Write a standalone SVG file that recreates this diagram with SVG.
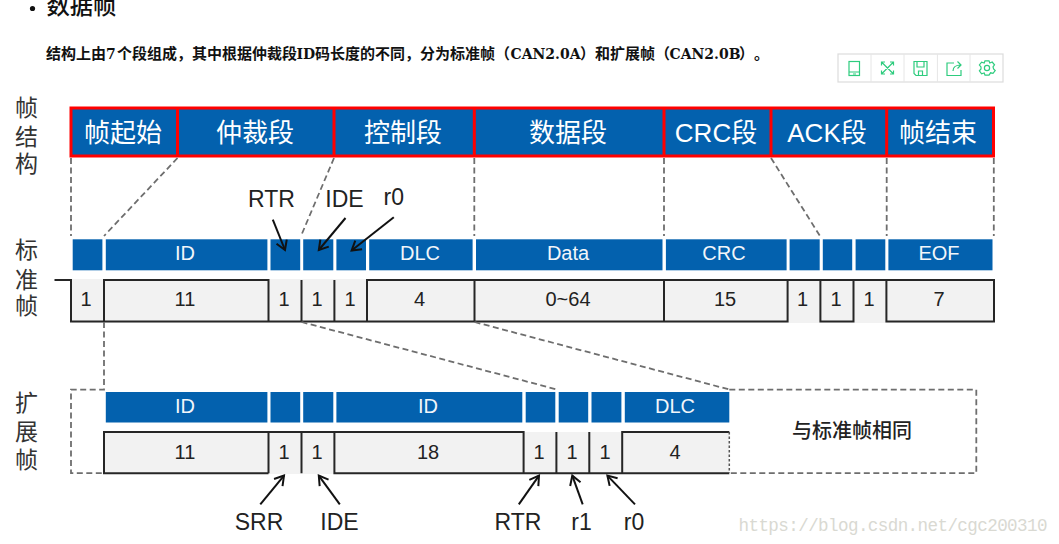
<svg xmlns="http://www.w3.org/2000/svg" width="1059" height="544" viewBox="0 0 1059 544">
<style>
text{font-family:"Liberation Sans","Noto Sans CJK SC",sans-serif;text-anchor:middle}
.seg{fill:#fff;font-size:26px}
.blue{fill:#0361ae}
.bl{fill:#f2f6fa;font-size:20px}
.num{fill:#222;font-size:20px}
.side{fill:#333;font-size:23px}
.lbl{fill:#222;font-size:23px}
.wave{fill:none;stroke:#262626;stroke-width:2}
.dash{fill:none;stroke:#6e6e6e;stroke-width:1.8;stroke-dasharray:6 3.5}
.arr{stroke:#111;stroke-width:2;fill:none;marker-end:url(#a)}
.head{font-family:"Noto Sans CJK SC",sans-serif;font-weight:700;fill:#111;text-anchor:start}
.lat{font-family:"DejaVu Serif",serif;font-size:14px}
.ic{fill:none;stroke:#2ecc7e;stroke-width:1.2}
</style>
<defs>
<marker id="a" markerUnits="userSpaceOnUse" markerWidth="14" markerHeight="14" refX="12" refY="7" orient="auto">
<path d="M3,1.5 L12,7 L3,12.5" fill="none" stroke="#111" stroke-width="2"/>
</marker>
</defs>
<rect width="1059" height="544" fill="#fff"/>

<g id="page-heading">
<circle cx="32.5" cy="8.5" r="2.6" fill="#111"/>
<text class="head" x="46.5" y="14" font-size="23.3" style="font-weight:500">数据帧</text>
<text class="head" x="46" y="59" font-size="15" style="text-spacing-trim:space-all"><tspan x="46">结构上由</tspan><tspan class="lat" x="106">7</tspan><tspan x="117">个段组成，其中根据仲裁段</tspan><tspan class="lat" x="296.5">ID</tspan><tspan x="315">码长度的不同，分为标准帧（</tspan><tspan class="lat" x="510.5">CAN2.0A</tspan><tspan x="580">）和扩展帧（</tspan><tspan class="lat" x="669.5">CAN2.0B</tspan><tspan x="739">）</tspan><tspan x="754">。</tspan></text>
</g>

<g id="toolbar">
<rect x="838" y="54" width="165" height="28" fill="#fff" stroke="#dcdcdc" stroke-width="1.2"/>
<path d="M871,54V82M904,54V82M937.4,54V82M970,54V82" stroke="#e6e6e6" stroke-width="1"/>
<g class="ic">
<rect x="849" y="61.5" width="10.5" height="14"/><path d="M849,72H859.5M853,74H856"/>
<path d="M881.5,62L893.5,74M893.5,62L881.5,74M881.5,65.5V62H885M890,62H893.5V65.5M881.5,70.5V74H885M890,74H893.5V70.5"/>
<path d="M914,61.5H927V75.5H916L914,73.5ZM917,61.5V67H924V61.5M918.5,75.5V71H922.5V75.5"/>
<path d="M954,63H947V75.5H961V70M953,71C953,66 956,65 961,65M957.5,61.5L961,65L957.5,68.5"/>
<path d="M985,60.8H989L989.8,63L992.2,62L994.5,64.8L993,66.8L993.6,69L995.2,70.5L993,73.4L990.6,72.8L989,75.2H985L984.2,73L981.6,73.8L979.4,70.8L981,69L981,67L979.4,65L981.6,62.2L984.2,63Z"/>
<circle cx="987" cy="68" r="2.6"/>
</g>
</g>

<g id="side-labels">
<text class="side" x="26.5" y="116">帧</text><text class="side" x="26.5" y="145">结</text><text class="side" x="26.5" y="172">构</text>
<text class="side" x="26.5" y="258">标</text><text class="side" x="26.5" y="288">准</text><text class="side" x="26.5" y="314">帧</text>
<text class="side" x="26.5" y="411">扩</text><text class="side" x="26.5" y="440">展</text><text class="side" x="26.5" y="468">帧</text>
</g>

<g id="frame-structure">
<rect x="71" y="108" width="922.5" height="48" fill="#0361ae" stroke="#f00" stroke-width="3"/>
<path d="M177.5,108V156M334,108V156M474.3,108V156M664,108V156M771,108V156M886.7,108V156" stroke="#f00" stroke-width="3" fill="none"/>
<text class="seg" x="123" y="142">帧起始</text>
<text class="seg" x="255" y="142">仲裁段</text>
<text class="seg" x="403" y="142">控制段</text>
<text class="seg" x="568" y="142">数据段</text>
<text class="seg" x="716" y="142">CRC段</text>
<text class="seg" x="827" y="142">ACK段</text>
<text class="seg" x="938" y="142">帧结束</text>
</g>

<g id="standard-fields">
<g class="blue">
<rect x="72.7" y="239.3" width="29.7" height="31"/>
<rect x="105.8" y="239.3" width="161.6" height="31"/>
<rect x="270.5" y="239.3" width="29.7" height="31"/>
<rect x="303.2" y="239.3" width="30.1" height="31"/>
<rect x="336.4" y="239.3" width="29.6" height="31"/>
<rect x="369.2" y="239.3" width="103.4" height="31"/>
<rect x="476" y="239.3" width="186.5" height="31"/>
<rect x="665.9" y="239.3" width="120.7" height="31"/>
<rect x="789.6" y="239.3" width="30.1" height="31"/>
<rect x="822.8" y="239.3" width="29.4" height="31"/>
<rect x="855.6" y="239.3" width="29.7" height="31"/>
<rect x="888.4" y="239.3" width="104.1" height="31"/>
</g>
<text class="bl" x="185" y="260">ID</text>
<text class="bl" x="420" y="260">DLC</text>
<text class="bl" x="568" y="260">Data</text>
<text class="bl" x="724" y="260">CRC</text>
<text class="bl" x="939" y="260">EOF</text>
</g>

<g id="standard-bits">
<rect x="72" y="279" width="921" height="44" fill="#f2f2f2"/>
<path class="wave" d="M54.5,280H71V321.5H268.5V280H104V321.5M301.5,280V321.5M268.5,321.5H787.6V280M334.4,280V321.5M367,321.5V280H994V321.5H886.4V280M474.5,280V321.5M664,280V321.5M820.4,280V321.5H853.5V280"/>
<text class="num" x="86" y="306">1</text>
<text class="num" x="185" y="306">11</text>
<text class="num" x="284" y="306">1</text>
<text class="num" x="317" y="306">1</text>
<text class="num" x="350" y="306">1</text>
<text class="num" x="419.5" y="306">4</text>
<text class="num" x="568" y="306">0~64</text>
<text class="num" x="725" y="306">15</text>
<text class="num" x="802.5" y="306">1</text>
<text class="num" x="836" y="306">1</text>
<text class="num" x="869" y="306">1</text>
<text class="num" x="939" y="306">7</text>
</g>

<g id="extended-frame">
<path class="dash" d="M104,322V389.7H71V473.2H104"/>
<path class="dash" d="M729.3,389.7H976.3V473.2H729.3"/>
<rect x="104" y="432" width="625" height="42" fill="#f2f2f2"/>
<g class="blue">
<rect x="105.8" y="392" width="161.6" height="30.5"/>
<rect x="270.5" y="392" width="29.7" height="30.5"/>
<rect x="303.2" y="392" width="30.1" height="30.5"/>
<rect x="336.4" y="392" width="185.9" height="30.5"/>
<rect x="525.7" y="392" width="29.6" height="30.5"/>
<rect x="558.7" y="392" width="29.5" height="30.5"/>
<rect x="591.5" y="392" width="29.9" height="30.5"/>
<rect x="624.8" y="392" width="104.5" height="30.5"/>
</g>
<text class="bl" x="185" y="413">ID</text>
<text class="bl" x="428" y="413">ID</text>
<text class="bl" x="675" y="413">DLC</text>
<path class="wave" d="M268.5,473.2H104V432H523.6V473.2H729.3M268.5,432V473.2M301.5,432V473.2M334.4,432V473.2H523.6M556.4,432V473.2M589.3,432V473.2M622.2,473.2V432H729.3"/>
<path d="M729.3,432V473" stroke="#555" stroke-width="1.5" stroke-dasharray="2.5 2" fill="none"/>
<text class="num" x="185" y="459">11</text>
<text class="num" x="284" y="459">1</text>
<text class="num" x="317" y="459">1</text>
<text class="num" x="428" y="459">18</text>
<text class="num" x="539" y="459">1</text>
<text class="num" x="572" y="459">1</text>
<text class="num" x="605" y="459">1</text>
<text class="num" x="675" y="459">4</text>
<text x="852" y="438" font-size="20" fill="#222" style="font-weight:500">与标准帧相同</text>
</g>

<g id="connectors">
<path class="dash" d="M71,158V236M177.5,158L104,236M334,158L301,236M474.3,158V236M664,158V236M771,158L820,236M886.7,158V236M993.8,158V236"/>
<path class="dash" d="M301.5,322L557,389.5M474.5,322L729.3,389.5"/>
<line class="arr" x1="272.8" y1="219.7" x2="285" y2="250"/>
<line class="arr" x1="345.5" y1="218" x2="318.8" y2="250"/>
<line class="arr" x1="393.8" y1="217.3" x2="351.6" y2="250.5"/>
<line class="arr" x1="260.3" y1="504.4" x2="284" y2="475.6"/>
<line class="arr" x1="339.8" y1="504.4" x2="318.8" y2="475.6"/>
<line class="arr" x1="518.8" y1="504.4" x2="539" y2="475.6"/>
<line class="arr" x1="582.7" y1="504.4" x2="572.3" y2="475.6"/>
<line class="arr" x1="635" y1="504.4" x2="607.4" y2="475.6"/>
</g>

<g id="field-labels">
<text class="lbl" x="271.5" y="206.5">RTR</text>
<text class="lbl" x="344.5" y="206.5">IDE</text>
<text class="lbl" x="393.8" y="204.5">r0</text>
<text class="lbl" x="259" y="530">SRR</text>
<text class="lbl" x="339.5" y="530">IDE</text>
<text class="lbl" x="518" y="530">RTR</text>
<text class="lbl" x="581.5" y="530">r1</text>
<text class="lbl" x="634" y="530">r0</text>
</g>

<text x="738.5" y="531" font-size="17.6" fill="#d9d9d2" textLength="309" style="font-family:'Liberation Mono',monospace;text-anchor:start">https://blog.csdn.net/cgc200310</text>
</svg>
